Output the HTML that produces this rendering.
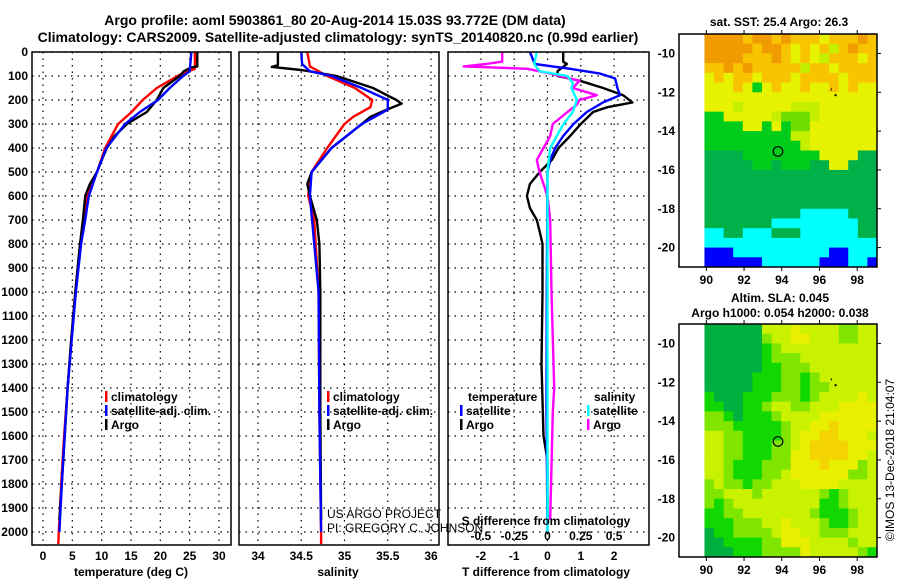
<!DOCTYPE html>
<html><head><meta charset="utf-8"><style>
body{margin:0;background:#fff}
svg{display:block;font-family:"Liberation Sans",Arial,sans-serif}
.b{font-weight:bold;font-size:12px}
</style></head><body>
<svg id="s" width="900" height="580" viewBox="0 0 900 580">
<text x="335" y="25" text-anchor="middle" font-weight="bold" font-size="14">Argo profile: aoml 5903861_80 20-Aug-2014 15.03S 93.772E (DM data)</text>
<text x="338" y="42" text-anchor="middle" font-weight="bold" font-size="14">Climatology: CARS2009. Satellite-adjusted climatology: synTS_20140820.nc (0.99d earlier)</text>
<text x="779" y="26" text-anchor="middle" class="b">sat. SST: 25.4 Argo: 26.3</text>
<text x="780" y="302" text-anchor="middle" class="b">Altim. SLA: 0.045</text>
<text x="780" y="317" text-anchor="middle" class="b">Argo h1000: 0.054 h2000: 0.038</text>
<text transform="translate(894,460) rotate(-90)" text-anchor="middle" font-size="12">©IMOS 13-Dec-2018 21:04:07</text>
<text x="327" y="518" font-size="12">US ARGO PROJECT</text>
<text x="327" y="532" font-size="12">PI: GREGORY C. JOHNSON</text>
</svg>
<script>
// ---- data ----
const depthTicks=[0,100,200,300,400,500,600,700,800,900,1000,1100,1200,1300,1400,1500,1600,1700,1800,1900,2000];
const tTicks=[0,5,10,15,20,25,30];
const sTicks=[34,34.5,35,35.5,36];
const dTTicks=[-2,-1,0,1,2];
const dSTicks=[-0.5,-0.25,0,0.25,0.5];
const argoTDepth=[0,60,65,80,100,150,200,250,300,350,400,450,500,550,600,700,800,900,1000,1200,1400,1600,1800,1950];
const argoT=[26.3,26.3,25.2,24,23.3,20.5,19.4,17.7,14.3,12.2,10.9,10,9.2,8,7.2,6.8,6.3,5.9,5.5,4.8,4.2,3.7,3.2,2.8];
const climTDepth=[0,70,95,150,200,250,300,400,500,600,700,800,1000,1200,1400,1600,1800,2000,2050];
const climT=[25.9,25.9,23.3,19.4,17,15.1,12.8,10.6,9.2,7.5,7,6.4,5.5,4.8,4.2,3.6,3.1,2.7,2.6];
const satTDepth=[0,80,100,150,200,250,300,400,500,600,700,800,1000,1200,1400,1600,1800,2000];
const satT=[25.3,25,23.9,21.6,19.6,16.5,14,10.8,9.2,7.8,7.2,6.5,5.6,4.9,4.2,3.7,3.2,2.8];
const argoSDepth=[0,55,62,75,100,150,200,215,240,270,300,400,500,550,600,700,800,1000,1500,1950];
const argoS=[34.23,34.23,34.16,34.5,34.91,35.33,35.6,35.66,35.49,35.3,35.2,34.85,34.62,34.57,34.6,34.68,34.71,34.72,34.72,34.73];
const climSDepth=[0,60,100,150,200,230,270,300,400,500,600,700,1000,1500,2000,2050];
const climS=[34.57,34.6,34.8,35.12,35.32,35.3,35.1,35.0,34.8,34.62,34.58,34.65,34.7,34.71,34.73,34.73];
const satSDepth=[0,50,80,100,150,200,240,270,300,400,500,600,1000,1500,2000];
const satS=[34.5,34.51,34.6,34.85,35.2,35.5,35.5,35.35,35.2,34.85,34.62,34.6,34.7,34.71,34.73];
const dArgoTDepth=[0,40,50,80,100,120,150,180,210,230,250,300,350,400,450,500,550,600,650,700,750,800,1000,1300,1600,1700,1950];
const dArgoT=[0.47,0.47,0.58,0.3,0.3,0.98,1.67,2.27,2.55,1.8,1.37,1.0,0.68,0.33,0.13,-0.23,-0.53,-0.62,-0.53,-0.32,-0.23,-0.15,-0.15,-0.18,-0.12,0,0];
const dSatTDepth=[0,50,70,90,110,150,180,210,250,300,350,400,450,500,1000,1500,2000];
const dSatT=[-0.53,-0.38,0.68,1.58,2.03,2.1,2.18,1.67,1.18,0.78,0.47,0.23,0.08,0,-0.02,-0.03,0];
const dArgoSDepth=[0,40,50,60,70,90,120,150,180,200,220,250,300,350,400,450,500,550,600,700,1000,1400,1500,1950];
const dArgoS=[-0.34,-0.34,-0.46,-0.63,-0.15,0.02,0.24,0.19,0.37,0.24,0.22,0.15,0.04,0.02,-0.03,-0.08,-0.06,-0.03,0,0.02,0.03,0.05,0.04,0.02];
const dSatSDepth=[0,50,80,100,130,150,200,250,300,350,400,500,1000,2000];
const dSatS=[-0.08,-0.1,-0.06,0.15,0.19,0.18,0.22,0.19,0.12,0.07,0.02,0,0,0];
const sstRows=["OOOOoOOoOoooYoooOo","OOOOOoOOoYoYoyoOoo","OOOOoooOoYoYyoooYo","ooOoOoooooyooYoooo","YoYooYoooYooooYooo","YYYoYGYoYYoYYoYoYY","YYYYYYYYYYYYYYYYYY","YYYyYYYYYyyyYYYYYY","GGYYYYYyLLLyYYYYYY","GGGGYYGYGLLYYYYYYY","GGGGGGGGGyyYYYYYYY","GGGGGGGGGGyYYYYYYY","DDDDGGGGGGGGYYYYDD","DDDDDGGDGGGDDYYDDD","DDDDDDDDDDDDDDDDDD","DDDDDDDDDDDDDDDDDD","DDDDDDDDDDDDDDDDDD","DDDDDDDDDDDDDDDDDD","DDDDDDDDDDCCCCCDDD","DDDDDDDCCCCCCCCCDD","CCDDCCCDDDCCCCCCDD","CCCCCCCCCCCCCCCCCC","BBBCCCCCCCCCCBBCCC","BBBBBBCCCCCCBBBCCB"];
const slaRows=["DDDDDDyyyYyyyyLLyy","DDDDDDLyyYYyyyLLyy","DDDDDDgLyyyyyyyyyy","DDDDDDgLLLyyyyyyyy","DDDDDDggLLLyyyyyyy","DDDDDgggLLgLyyyyyy","DDDDDgggLLgLLyyyyy","gDDDgggLLLgLyyyyYy","ggDDggLyyLLyyyYYYY","LLgDgggLyyyyYYYYYY","LLLgggggLyyYYoYYYY","yyLLggggLyYYooYYYy","yyLLgggLLyYooooYYY","yyLLgggLLYYooooYYy","yyLgggLLLYYYoYYYLy","yyLgggLLyYYYYYYLLy","LyLLgLLyyyYYYYyyyy","LLyyyLyyyyyyLgLyyy","LgLyyyyyyyyyggLyyy","ggLLyyyyyyyLgggLyy","gggLLLyyYyyyLggLyy","DggLLLLyYYyyLLLyyy","DDggggLLYYYyyyyLyy","DDDgggLLLLYyyyyyLg"];
const lonTicks=[90,92,94,96,98];
const latTicks=[-10,-12,-14,-16,-18,-20];
const floatLon=93.8, floatLat=-15.05;

const S=document.getElementById('s');const NS='http://www.w3.org/2000/svg';
function mk(t,a,p){const e=document.createElementNS(NS,t);for(const k in a)e.setAttribute(k,a[k]);(p||S).appendChild(e);return e;}
const Y=d=>52+0.24*d;
const P1={l:32,r:231},P2={l:239,r:439},P3={l:448,r:649},pTop=52,pBot=545;
const xT=v=>43+v*176/30, xS=v=>258+(v-34)*86.5, xdT=v=>547.5+v*33.3, xdS=v=>547.5+v*133.2;

function panel(P,name){
  const g=mk('g',{});
  depthTicks.forEach(d=>{const l=mk('line',{x1:P.l,x2:P.r,y1:Y(d),y2:Y(d),stroke:'#000','stroke-dasharray':'1.5 5','stroke-width':1.2},g);
    });
  return g;
}
function vgrid(g,ticks,fx){ticks.forEach(v=>{const l=mk('line',{x1:fx(v),x2:fx(v),y1:pTop,y2:pBot,stroke:'#000','stroke-dasharray':'1.5 5','stroke-width':1.2},g);
  });}
function box(g,P){const r=mk('rect',{x:P.l,y:pTop,width:P.r-P.l,height:pBot-pTop,fill:'none',stroke:'#000','stroke-width':1.5},g);
  }
function xlabels(g,ticks,fx,y){ticks.forEach(v=>{const t=mk('text',{x:fx(v),y:y,'text-anchor':'middle',class:'b'},g);t.textContent=v;
  });}
function line(g,ds,vs,fx,col,name,w){const pts=ds.map((d,i)=>fx(vs[i]).toFixed(1)+','+Y(d).toFixed(1)).join(' ');
  const p=mk('polyline',{points:pts,fill:'none',stroke:col,'stroke-width':w||2.4,'stroke-linejoin':'round'},g);
  }
function legend(g,x,y,col,txt,name){const r=mk('rect',{x:x,y:y-10,width:2.5,height:11,fill:col},g);
  const t=mk('text',{x:x+6,y:y,class:'b'},g);t.textContent=txt;
  
  }
function title(g,x,y,txt,name){const t=mk('text',{x:x,y:y,'text-anchor':'middle',class:'b'},g);t.textContent=txt;
  }

depthTicks.forEach(d=>{const t=mk('text',{x:28,y:Y(d)+4,'text-anchor':'end',class:'b'});t.textContent=d;
  });

let g=panel(P1,'temperature-panel');vgrid(g,tTicks,xT);
line(g,climTDepth,climT,xT,'#f00','climatology-temperature-line');
line(g,argoTDepth,argoT,xT,'#000','argo-temperature-line');
line(g,satTDepth,satT,xT,'#00f','satellite-temperature-line');
box(g,P1);xlabels(g,tTicks,xT,560);title(g,131,576,'temperature (deg C)','temperature-axis-title');
legend(g,105,401,'#f00','climatology','legend-climatology');legend(g,105,415,'#00f','satellite-adj. clim.','legend-satellite');legend(g,105,429,'#000','Argo','legend-argo');

g=panel(P2,'salinity-panel');vgrid(g,sTicks,xS);
line(g,climSDepth,climS,xS,'#f00','climatology-salinity-line');
line(g,argoSDepth,argoS,xS,'#000','argo-salinity-line');
line(g,satSDepth,satS,xS,'#00f','satellite-salinity-line');
box(g,P2);xlabels(g,sTicks,xS,560);title(g,338,576,'salinity','salinity-axis-title');
legend(g,327,401,'#f00','climatology','legend-climatology-s');legend(g,327,415,'#00f','satellite-adj. clim.','legend-satellite-s');legend(g,327,429,'#000','Argo','legend-argo-s');

g=panel(P3,'difference-panel');vgrid(g,dTTicks,xdT);
line(g,dArgoTDepth,dArgoT,xdT,'#000','argo-t-difference-line');
line(g,dArgoSDepth,dArgoS,xdS,'#f0f','argo-s-difference-line');
line(g,dSatTDepth,dSatT,xdT,'#00f','satellite-t-difference-line');
line(g,dSatSDepth,dSatS,xdS,'#0ff','satellite-s-difference-line');
box(g,P3);xlabels(g,dTTicks,xdT,560);title(g,546,576,'T difference from climatology','t-difference-axis-title');
title(g,546,525,'S difference from climatology','s-difference-axis-title');
xlabels(g,dSTicks,xdS,540);
let tx=mk('text',{x:468,y:401,class:'b'},g);tx.textContent='temperature';


tx=mk('text',{x:594,y:401,class:'b'},g);tx.textContent='salinity';


legend(g,460,415,'#00f','satellite','legend-t-satellite');legend(g,460,429,'#000','Argo','legend-t-argo');
legend(g,587,415,'#0ff','satellite','legend-s-satellite');legend(g,587,429,'#f0f','Argo','legend-s-argo');

const sstCol={O:'#f09c00',o:'#f8c400',Y:'#e6f200',y:'#c4f000',L:'#70dc00',G:'#00cc1c',D:'#00b048',C:'#00ffff',B:'#0000ff'};
const slaCol={D:'#00b040',g:'#10d800',L:'#80e600',y:'#c8f200',Y:'#e8f000',o:'#f4d400'};
const M={l:679,r:877,lon0:88.55,lon1:99.05,lat0:-9.0,lat1:-21.0};
function map(oy,rows,cols,name){
  const gg=mk('g',{});
  const bt=oy,bb=oy+233;
  const mx=lon=>M.l+(lon-M.lon0)*(M.r-M.l)/(M.lon1-M.lon0);
  const my=lat=>bt+(lat-M.lat0)*(bb-bt)/(M.lat1-M.lat0);
  const nR=rows.length,nC=rows[0].length,x0=mx(89.9),cw=(M.r-x0)/nC,ch=(bb-bt)/nR;
  rows.forEach((row,i)=>{for(let j=0;j<nC;j++){const r=mk('rect',{x:(x0+j*cw).toFixed(2),y:(bt+i*ch).toFixed(2),width:(cw+0.4).toFixed(2),height:(ch+0.4).toFixed(2),fill:cols[row[j]]},gg);
    }});
  const fr=mk('rect',{x:M.l,y:bt,width:M.r-M.l,height:bb-bt,fill:'none',stroke:'#000','stroke-width':1.5},gg);
  
  lonTicks.forEach(v=>{mk('line',{x1:mx(v),x2:mx(v),y1:bt-4,y2:bt,stroke:'#000'},gg);mk('line',{x1:mx(v),x2:mx(v),y1:bb,y2:bb+4,stroke:'#000'},gg);
    const tt=mk('text',{x:mx(v),y:bb+17,'text-anchor':'middle',class:'b'},gg);tt.textContent=v;});
  latTicks.forEach(v=>{mk('line',{x1:M.r,x2:M.r+4,y1:my(v),y2:my(v),stroke:'#000'},gg);
    const tt=mk('text',{x:675,y:my(v)+4,'text-anchor':'end',class:'b'},gg);tt.textContent=v;});
  const c=mk('circle',{cx:mx(floatLon),cy:my(floatLat),r:4.8,fill:'none',stroke:'#000','stroke-width':1.2},gg);
  
  mk('rect',{x:mx(96.6),y:my(-11.8),width:1,height:2,fill:'#000'},gg);mk('rect',{x:mx(96.8),y:my(-12.1),width:2,height:2,fill:'#000'},gg);
}
map(34,sstRows,sstCol,'sst-map');
map(324,slaRows,slaCol,'sla-map');
</script>
</body></html>
